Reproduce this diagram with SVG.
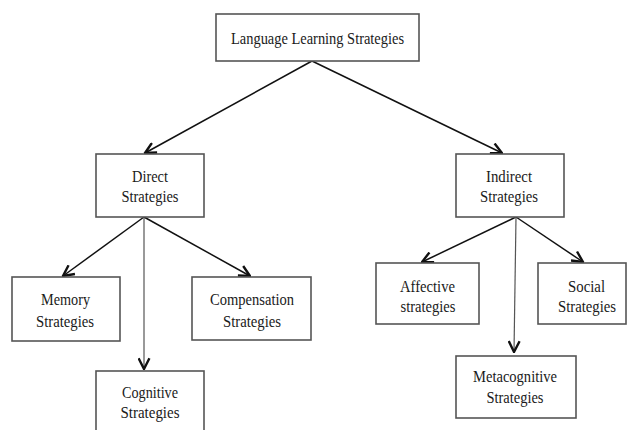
<svg xmlns="http://www.w3.org/2000/svg" width="627" height="430" viewBox="0 0 627 430">
<defs>
<marker id="arr" viewBox="0 0 12 12" refX="11" refY="6" markerWidth="13" markerHeight="13" markerUnits="userSpaceOnUse" orient="auto">
<path d="M1,1 L11,6 L1,11" fill="none" stroke="#111" stroke-width="2.2"/>
</marker>
</defs>
<style>
.box{fill:#fff;stroke:#555;stroke-width:1.6}
text{font-family:"Liberation Serif","Times New Roman",serif;font-size:17px;fill:#1a1a1a;text-anchor:middle}
.c{stroke:#111;stroke-width:1.5;fill:none;marker-end:url(#arr)}
.v{stroke:#555;stroke-width:1.2}
</style>
<rect width="627" height="430" fill="#fff"/>
<g id="connectors">
<line class="c" x1="312" y1="61" x2="145" y2="153"/>
<line class="c" x1="312" y1="61" x2="502" y2="153"/>
<line class="c" x1="144" y1="217" x2="63" y2="276"/>
<line class="c v" x1="144" y1="217" x2="144" y2="369"/>
<line class="c" x1="144" y1="217" x2="250" y2="276"/>
<line class="c" x1="516" y1="217" x2="422" y2="262"/>
<line class="c v" x1="516" y1="217" x2="514" y2="352"/>
<line class="c" x1="516" y1="217" x2="583" y2="262"/>
</g>
<g id="n-root">
<rect class="box" x="216" y="14" width="203" height="47"/>
<text x="317.5" y="44" textLength="173" lengthAdjust="spacingAndGlyphs">Language Learning Strategies</text>
</g>
<g id="n-direct">
<rect class="box" x="96" y="154" width="108" height="63"/>
<text x="150" y="182" textLength="36" lengthAdjust="spacingAndGlyphs">Direct</text>
<text x="150" y="202" textLength="57" lengthAdjust="spacingAndGlyphs">Strategies</text>
</g>
<g id="n-indirect">
<rect class="box" x="456" y="154" width="108" height="63"/>
<text x="509" y="182" textLength="46" lengthAdjust="spacingAndGlyphs">Indirect</text>
<text x="509" y="202" textLength="58" lengthAdjust="spacingAndGlyphs">Strategies</text>
</g>
<g id="n-memory">
<rect class="box" x="12" y="277" width="108" height="64"/>
<text x="65.5" y="305" textLength="49" lengthAdjust="spacingAndGlyphs">Memory</text>
<text x="65" y="327" textLength="58" lengthAdjust="spacingAndGlyphs">Strategies</text>
</g>
<g id="n-compensation">
<rect class="box" x="192" y="277" width="119" height="63"/>
<text x="252" y="305" textLength="84" lengthAdjust="spacingAndGlyphs">Compensation</text>
<text x="252" y="327" textLength="58" lengthAdjust="spacingAndGlyphs">Strategies</text>
</g>
<g id="n-cognitive">
<rect class="box" x="96" y="371" width="108" height="70"/>
<text x="150" y="398" textLength="56" lengthAdjust="spacingAndGlyphs">Cognitive</text>
<text x="150" y="418" textLength="59" lengthAdjust="spacingAndGlyphs">Strategies</text>
</g>
<g id="n-affective">
<rect class="box" x="376" y="263" width="103" height="61"/>
<text x="427.5" y="292" textLength="55" lengthAdjust="spacingAndGlyphs">Affective</text>
<text x="428" y="312" textLength="55" lengthAdjust="spacingAndGlyphs">strategies</text>
</g>
<g id="n-social">
<rect class="box" x="538" y="263" width="88" height="61"/>
<text x="586.5" y="292" textLength="37" lengthAdjust="spacingAndGlyphs">Social</text>
<text x="587" y="312" textLength="58" lengthAdjust="spacingAndGlyphs">Strategies</text>
</g>
<g id="n-metacognitive">
<rect class="box" x="456" y="356" width="120" height="62"/>
<text x="515" y="382" textLength="84" lengthAdjust="spacingAndGlyphs">Metacognitive</text>
<text x="515" y="403" textLength="57" lengthAdjust="spacingAndGlyphs">Strategies</text>
</g>
</svg>
